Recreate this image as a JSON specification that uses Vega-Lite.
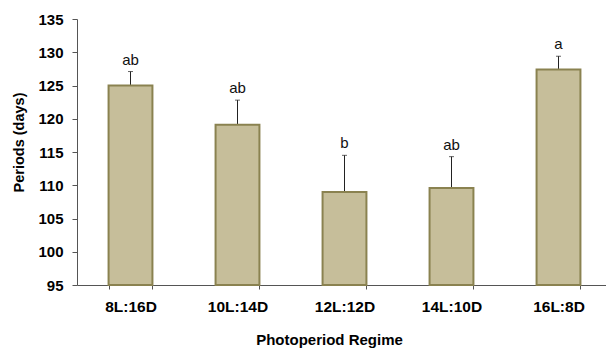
{
  "$schema": "https://vega.github.io/schema/vega-lite/v6.json",
  "width": 529,
  "height": 266,
  "padding": {"left": 77, "top": 19, "right": 0, "bottom": 63},
  "autosize": {"type": "none"},
  "background": "white",
  "config": {
    "view": {"stroke": null},
    "font": "Liberation Sans",
    "axis": {"grid": false, "domainColor": "#555555", "tickColor": "#555555", "labelColor": "#000000", "titleColor": "#000000", "labelFont": "Liberation Sans", "titleFont": "Liberation Sans"}
  },
  "data": {
    "values": [
      {"regime": "8L:16D", "period": 125.0, "upper": 127.1, "letter": "ab"},
      {"regime": "10L:14D", "period": 119.1, "upper": 122.8, "letter": "ab"},
      {"regime": "12L:12D", "period": 109.0, "upper": 114.5, "letter": "b"},
      {"regime": "14L:10D", "period": 109.6, "upper": 114.3, "letter": "ab"},
      {"regime": "16L:8D", "period": 127.4, "upper": 129.4, "letter": "a"}
    ]
  },
  "encoding": {
    "x": {
      "field": "regime",
      "type": "nominal",
      "sort": null,
      "scale": {"range": [0, 535], "paddingInner": 0.59, "paddingOuter": 0.295},
      "axis": {
        "title": "Photoperiod Regime",
        "titleFontSize": 15,
        "titleFontWeight": "bold",
        "titlePadding": 18,
        "titleX": 252,
        "labelAngle": 0,
        "labelFontSize": 15.5,
        "labelFontWeight": "bold",
        "labelPadding": 10,
        "labelOverlap": false,
        "tickBand": "extent",
        "tickSize": 4
      }
    },
    "y": {
      "field": "period",
      "type": "quantitative",
      "scale": {"domain": [95, 135], "zero": false, "nice": false},
      "axis": {
        "title": "Periods (days)",
        "titleFontSize": 14.5,
        "titleFontWeight": "bold",
        "titlePadding": 11,
        "titleY": 123,
        "values": [95, 100, 105, 110, 115, 120, 125, 130, 135],
        "labelFontSize": 15,
        "labelFontWeight": "bold",
        "labelPadding": 9,
        "labelOverlap": false,
        "labelBound": false,
        "tickSize": 5
      }
    }
  },
  "layer": [
    {
      "mark": {"type": "rule", "color": "#222222", "strokeWidth": 1},
      "encoding": {
        "y2": {"field": "upper"}
      }
    },
    {
      "mark": {"type": "tick", "color": "#222222", "size": 5, "thickness": 1},
      "encoding": {
        "y": {"field": "upper", "type": "quantitative"}
      }
    },
    {
      "mark": {"type": "bar", "fill": "#c6be9a", "stroke": "#8a8250", "strokeWidth": 2},
      "encoding": {
        "y2": {"datum": 95}
      }
    },
    {
      "mark": {"type": "text", "baseline": "bottom", "dy": -4, "fontSize": 15, "color": "#111111"},
      "encoding": {
        "y": {"field": "upper", "type": "quantitative"},
        "text": {"field": "letter"}
      }
    }
  ]
}
